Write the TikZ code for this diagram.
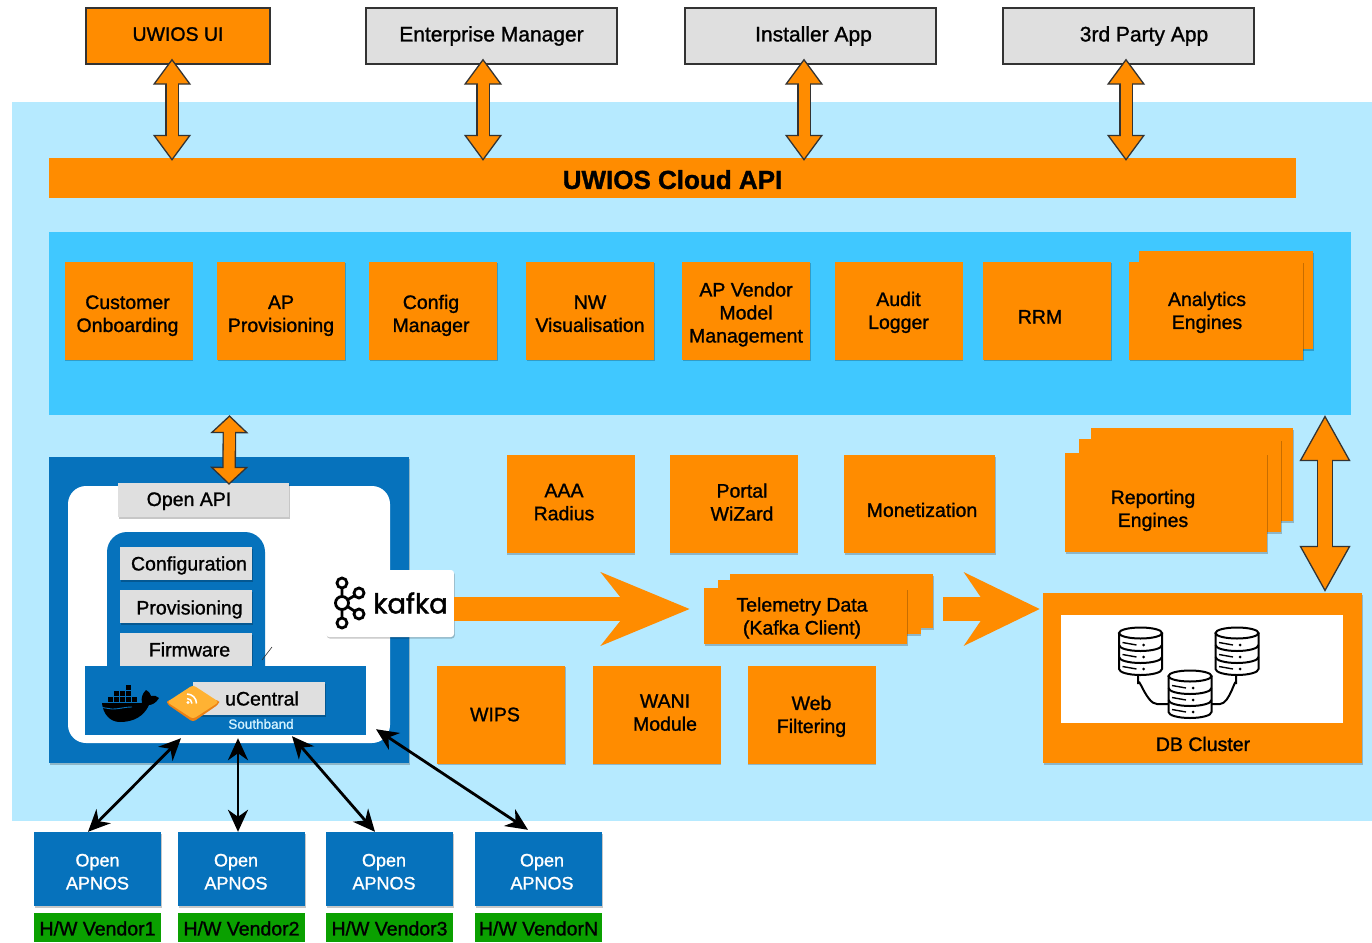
\documentclass[tikz,border=0pt]{standalone}
\usepackage{fontspec}
\usepackage{xcolor}
\setmainfont{Liberation Sans}[RawFeature={embolden=1.2}]
\newfontfamily\logofont{Poppins}[RawFeature={embolden=1.5}]
\usetikzlibrary{arrows.meta,shadows}
\definecolor{uwiorange}{HTML}{FF8C00}
\definecolor{uwisky}{HTML}{B6EAFF}
\definecolor{uwiband}{HTML}{40C8FF}
\definecolor{uwiblue}{HTML}{0672BC}
\definecolor{uwigrey}{HTML}{DFDFDF}
\definecolor{uwigreen}{HTML}{0AA000}
\definecolor{uwiline}{HTML}{333333}
\newcommand\textdrop[1]{\rule{0pt}{#1pt}}
\newcommand\textlift[1]{\rule[-#1pt]{0pt}{#1pt}}
\tikzset{
    boxsize/.style 2 args={minimum width=#1,minimum height=#2,inner sep=0pt,align=center},
    softshadow/.style={drop shadow={shadow xshift=0.8pt,shadow yshift=-1.5pt,opacity=0.22,fill=black}},
    orangebox/.style={fill=uwiorange,softshadow},
    greybox/.style={fill=uwigrey,softshadow},
    appbox/.style={draw=uwiline,line width=1.3pt},
    blockarrow/.style n args={3}{
        line width=#3+2.6pt,draw=uwiline,
        {Triangle[length=#1,width=#2,line width=1.3pt,fill=uwiorange]}-{Triangle[length=#1,width=#2,line width=1.3pt,fill=uwiorange]},
        postaction={draw=uwiorange,line width=#3,arrows=-,shorten >=#1-2pt,shorten <=#1-2pt}
    },
    flowarrow/.style={draw=uwiorange,line width=24pt,-{Stealth[length=88pt,width=72pt,inset=28pt]}},
    shortflow/.style={draw=uwiorange,line width=24pt,-{Stealth[length=75pt,width=72pt,inset=24pt]}},
    dbdisk/.pic={
        \draw[line width=2pt,fill=white,draw=black] (-21.5,6) -- (-21.5,42) arc[start angle=180,end angle=0,x radius=21.5,y radius=6] -- (21.5,6);
        \draw[line width=2pt,fill=white,draw=black] (0,6) ellipse[x radius=21.5,y radius=5.5];
        \draw[line width=2pt] (-21.5,18) arc[start angle=180,end angle=0,x radius=21.5,y radius=6];
        \draw[line width=2pt] (-21.5,30) arc[start angle=180,end angle=0,x radius=21.5,y radius=6];
        \draw[line width=1.4pt] (-18,15.5) -- (-4,18) (-18,27.5) -- (-4,30) (-18,39.5) -- (-4,42);
        \fill (3,18) circle[radius=1.5] (3,30) circle[radius=1.5] (3,42) circle[radius=1.5];
    }
}
\begin{document}
\begin{tikzpicture}[x=1pt,y=-1pt,font=\fontsize{19.5}{23}\selectfont]
    \useasboundingbox (0,0) rectangle (1372,942);
    \fill[uwisky] (12,102) rectangle (1372,821);
    \node[fill=uwiband,boxsize={1302pt}{183pt}] (serviceband) at (700,323.5) {};
    \node[fill=uwiorange,boxsize={1247pt}{40pt},font=\fontsize{26}{30}\selectfont\bfseries] (cloudapi) at (672.5,178) {\textdrop{22}UWIOS Cloud API};

    \begin{scope}[every node/.style={appbox,boxsize={251pt}{56pt},fill=uwigrey,font=\fontsize{21}{24}\selectfont}]
        \node[fill=uwiorange,minimum width=184pt,font=\fontsize{19.5}{23}\selectfont] (uwiosui) at (178,36) {UWIOS UI\textlift{4}};
        \node (entmanager) at (491.5,36) {Enterprise Manager};
        \node (installer) at (810.5,36) {\hspace*{6pt}Installer App};
        \node (thirdparty) at (1128.5,36) {\hspace*{31pt}3rd Party App};
    \end{scope}

    \begin{scope}[every node/.style={orangebox,boxsize={128pt}{98pt}}]
        \node (onboarding) at (128.5,310.5) {\textdrop{24}Customer\hspace*{2pt}\\Onboarding\hspace*{2pt}};
        \node (approv) at (281,310.5) {\textdrop{24}AP\\Provisioning};
        \node (config) at (433,310.5) {\textdrop{24}Config\hspace*{4pt}\\Manager\hspace*{4pt}};
        \node (nwvis) at (590,310.5) {\textdrop{20}NW\\Visualisation};
        \node (vendormodel) at (746,310.5) {\textdrop{22}AP Vendor\\Model\\Management};
        \node (audit) at (898.5,310.5) {\textdrop{18}Audit\\Logger};
        \node (rrm) at (1047,310.5) {\textdrop{26}RRM\hspace*{14pt}};
        \node[boxsize={174pt}{98pt}] (analyticsback) at (1226,300) {};
        \node[boxsize={174pt}{98pt}] (analytics) at (1216,310.5) {\textdrop{18}Analytics\hspace*{18pt}\\Engines\hspace*{18pt}};
        \node (aaa) at (570.5,504) {AAA\hspace*{13pt}\\Radius\hspace*{13pt}\textlift{4}};
        \node (portal) at (733.5,504) {\hspace*{17pt}Portal\\\hspace*{17pt}WiZard\textlift{4}};
        \node[boxsize={151pt}{98pt}] (monetization) at (919.5,504) {\textdrop{26}\hspace*{5pt}Monetization};
        \node[boxsize={202pt}{93pt}] (reportingback) at (1192,474.5) {};
        \node[boxsize={202pt}{93pt}] (reportingmid) at (1180,485.5) {};
        \node[boxsize={202pt}{99pt}] (reporting) at (1166,502.5) {\textdrop{30}Reporting\hspace*{26pt}\\Engines\hspace*{26pt}};
        \node (wips) at (501,714.5) {WIPS\hspace*{12pt}};
        \node (wani) at (656.5,714.5) {\hspace*{17pt}WANI\\\hspace*{17pt}Module\textlift{4}};
        \node (webfilter) at (811.5,714.5) {\textdrop{18}Web\\Filtering};
        \node[boxsize={203pt}{54pt}] (telemetryback) at (831.5,601) {};
        \node[boxsize={203pt}{54pt}] (telemetrymid) at (819,607) {};
        \node[boxsize={203pt}{56pt}] (telemetry) at (805.5,616) {\textdrop{18}Telemetry Data\hspace*{7pt}\\(Kafka Client)\hspace*{7pt}};
    \end{scope}

    \node[orangebox,boxsize={319pt}{170pt}] (dbcluster) at (1202.5,678) {};
    \node[fill=white,boxsize={282pt}{108pt}] (dbarea) at (1202,669) {};
    \node[inner sep=0pt] (dblabel) at (1203,744) {DB Cluster};
    \draw[line width=2pt] (1138,672) -- (1138,684) to[out=90,in=180] (1157,704) -- (1170,704);
    \draw[line width=2pt] (1236,672) -- (1236,684) to[out=90,in=0] (1220,704) -- (1210,704);
    \pic at (1140.5,627) {dbdisk};
    \pic at (1237,627) {dbdisk};
    \pic at (1190,670) {dbdisk};

    \node[fill=uwiblue,softshadow,boxsize={360pt}{306pt}] (openframe) at (229,610) {};
    \fill[white,rounded corners=18pt] (68,486) rectangle (390,743);
    \node[greybox,boxsize={171pt}{34pt}] (openapi) at (203.5,500) {\textdrop{16}Open API\hspace*{29pt}};
    \fill[uwiblue,rounded corners=20pt] (107,700) -- (107,532) -- (265,532) -- (265,700) -- cycle;
    \begin{scope}[every node/.style={greybox,boxsize={132pt}{33pt}}]
        \node (configuration) at (186,563.5) {\textdrop{18}\hspace*{6pt}Configuration};
        \node (provisioning) at (186,606.5) {\textdrop{20}\hspace*{7pt}Provisioning};
        \node (firmware) at (186,649.5) {\hspace*{7pt}Firmware};
    \end{scope}
    \draw[uwiline,line width=0.6pt] (262,660) -- (272,647);
    \node[fill=uwiblue,boxsize={281pt}{69pt}] (southband) at (225.5,700.5) {};
    \node[greybox,boxsize={132pt}{33pt}] (ucentral) at (259,698.5) {\hspace*{6pt}uCentral};
    \node[inner sep=0pt,text=uwisky!60!white,font=\fontsize{13.5}{15}\selectfont] (southlabel) at (261,724) {Southband};

    \fill[black] (102,703) -- (142,703) .. controls (141,698) and (142,694) .. (146,690) .. controls (149,692) and (151,694) .. (151,696) .. controls (154,695) and (157,696) .. (159,698) .. controls (156,703) and (152,705) .. (149,705) .. controls (144,716) and (134,722) .. (120,722) .. controls (110,722) and (103,714) .. (102,703) -- cycle;
    \draw[uwiblue,line width=0.9pt] (102,707.5) to[out=0,in=180] (112,709) to[out=0,in=180] (132,707);
    \draw[black,line width=5pt,dash pattern=on 5pt off 1pt] (108,699.5) -- (138,699.5);
    \draw[black,line width=5pt,dash pattern=on 5pt off 1pt] (114,693.5) -- (132,693.5);
    \draw[black,line width=5pt,dash pattern=on 5pt off 1pt] (126,687.5) -- (132,687.5);

    \fill[orange!70!brown,rounded corners=3pt] (167,704) -- (193,722) -- (219,704) -- (219,700) -- (167,700) -- cycle;
    \fill[orange!75!yellow!80!white,rounded corners=3pt] (167,702) -- (193,685) -- (219,702) -- (193,719) -- cycle;
    \draw[white,line width=1.5pt] (187,694) arc[start angle=-90,end angle=0,radius=9.5];
    \draw[white,line width=1.5pt] (187,698.5) arc[start angle=-90,end angle=0,radius=5];
    \fill[white] (188,702.5) circle[radius=1.7];

    \node[fill=white,rounded corners=3pt,softshadow,boxsize={128pt}{67pt}] (kafkabox) at (390,603.5) {};
    \draw[black,line width=2.8pt] (342,583) -- (342,623) (342,603) -- (359,593) (342,603) -- (359,614);
    \filldraw[fill=white,draw=black,line width=2.8pt] (342,583) circle[radius=5] (342,603) circle[radius=6.5] (342,623) circle[radius=5] (359,593) circle[radius=5] (359,614) circle[radius=5];
    \node[inner sep=0pt,font=\fontsize{27.5}{30}\logofont] (kafkaname) at (410.5,603) {kafka};

    \begin{scope}[every node/.style={fill=uwiblue,softshadow,boxsize={127pt}{74pt},text=white,font=\fontsize{18}{23}\selectfont}]
        \node (apnosa) at (97.5,869) {\textdrop{18}Open\\APNOS};
        \node (apnosb) at (241.5,869) {\textdrop{18}Open\hspace*{11pt}\\APNOS\hspace*{11pt}};
        \node (apnosc) at (389.5,869) {\textdrop{18}Open\hspace*{11pt}\\APNOS\hspace*{11pt}};
        \node (apnosd) at (538.5,869) {\textdrop{18}\hspace*{7pt}Open\\\hspace*{7pt}APNOS};
    \end{scope}
    \begin{scope}[every node/.style={fill=uwigreen,boxsize={127pt}{29pt}}]
        \node (vendora) at (97.5,927.5) {\textdrop{16}H/W Vendor1};
        \node (vendorb) at (241.5,927.5) {\textdrop{16}H/W Vendor2};
        \node (vendorc) at (389.5,927.5) {\textdrop{16}H/W Vendor3};
        \node (vendord) at (538.5,927.5) {\textdrop{16}H/W VendorN};
    \end{scope}

    \draw[blockarrow={26pt}{38pt}{11pt}] ([xshift=-6,yshift=6]uwiosui.south) -- ([xshift=-500.5,yshift=-3]cloudapi.north);
    \draw[blockarrow={26pt}{38pt}{11pt}] ([xshift=-8.5,yshift=6]entmanager.south) -- ([xshift=-189.5,yshift=-3]cloudapi.north);
    \draw[blockarrow={26pt}{38pt}{11pt}] ([xshift=-6.5,yshift=6]installer.south) -- ([xshift=131.5,yshift=-3]cloudapi.north);
    \draw[blockarrow={26pt}{38pt}{11pt}] ([xshift=-2.5,yshift=6]thirdparty.south) -- ([xshift=453.5,yshift=-3]cloudapi.north);
    \draw[blockarrow={18pt}{38pt}{11pt}] ([xshift=-470.5]serviceband.south) -- ([yshift=-28]openframe.north);
    \draw[blockarrow={46pt}{51pt}{14pt}] ([xshift=625]serviceband.south) -- ([xshift=122.5,yshift=1]dbcluster.north);

    \draw[flowarrow,shorten >=14pt] ([yshift=-5.5]kafkabox.east) -- ([yshift=7]telemetry.west);
    \draw[shortflow,shorten <=10pt,shorten >=3pt] ([yshift=-8]telemetryback.east) -- ([yshift=69]dbcluster.west);

    \begin{scope}[>={Stealth[black,length=22pt,width=20pt,inset=7pt]}, every edge/.style={draw=black,line width=2.8pt}]
        \path [<->] ([xshift=-9.5]apnosa.north) edge ([xshift=-44.5,yshift=-3]southband.south);
        \path [<->] ([xshift=-3.5]apnosb.north) edge ([xshift=12.5,yshift=-3]southband.south);
        \path [<->] ([xshift=-14.5]apnosc.north) edge ([xshift=66.5,yshift=-1]southband.south);
        \path [<->] ([xshift=-10.5,yshift=2]apnosd.north) edge ([xshift=150.5,yshift=6]southband.south);
    \end{scope}
\end{tikzpicture}
\end{document}
